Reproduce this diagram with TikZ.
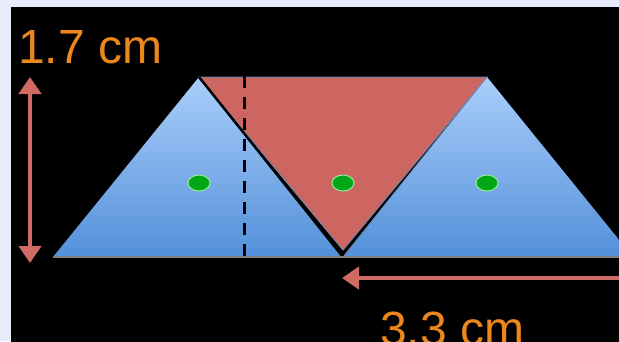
\documentclass[tikz,border=0pt]{standalone}
\usepackage{fontspec}
\newfontfamily\etiqueta{Liberation Sans}
\usetikzlibrary{arrows.meta,shapes.geometric}
\definecolor{fondo}{HTML}{E8ECFA}
\definecolor{rojo}{HTML}{CD6660}
\definecolor{bordeazul}{HTML}{7384A8}
\definecolor{azulclaro}{HTML}{AACEFA}
\definecolor{azuloscuro}{HTML}{5390DA}
\definecolor{naranja}{HTML}{EC871C}
\definecolor{verde}{HTML}{00A818}
\definecolor{verdeclaro}{HTML}{98EC98}
\definecolor{flecha}{HTML}{D06A64}
\begin{document}
\begin{tikzpicture}[x=1pt,y=-1pt,
    azul/.style={top color=azulclaro,bottom color=azuloscuro},
    punto/.style={ellipse,fill=verde,draw=verdeclaro,line width=1pt,
      minimum width=22pt,minimum height=16pt,inner sep=0pt},
    medida/.style={flecha,line width=4.5pt,
      {Triangle[width=22pt,length=17pt]}-{Triangle[width=22pt,length=17pt]}},
    cota/.style={text=naranja,inner sep=0pt,anchor=base west,
      font=\etiqueta\fontsize{48}{58}\selectfont}]
  \useasboundingbox (0,0) rectangle (619,341);
  \clip (0,0) rectangle (619,341);
  \fill[fondo] (0,0) rectangle (619,341);
  \fill[black] (11,7) rectangle (640,360);

  % Vértices
  \coordinate (a1) at (199,77);
  \coordinate (a2) at (487,77);
  \coordinate (b0) at (53,257);
  \coordinate (b1) at (343,257);
  \coordinate (b2) at (633,257);
  \coordinate (r0) at (343,250);

  % Triángulo izquierdo
  \shade[azul] (a1) -- (b0) -- (b1) -- cycle;
  % Triángulo invertido
  \filldraw[fill=rojo,draw=bordeazul,line width=1pt] (a1) -- (a2) -- (r0) -- cycle;
  % Triángulo derecho
  \shade[azul] (a2) -- (b1) -- (b2) -- cycle;
  \draw[bordeazul,line width=0.8pt] (a2) -- (b1);

  \draw[black,line width=2.5pt] (a1) -- (b1);
  \draw[gray,line width=1.5pt] (b0) -- (b2);

  % Eje
  \coordinate (e1) at (244,55);
  \coordinate (e2) at (244,312);
  \draw[black,line width=3pt,dash pattern=on 12pt off 9pt] (e1) -- (e2);

  % Centros
  \node[punto] (c1) at (199,183) {};
  \node[punto] (c2) at (343,183) {};
  \node[punto] (c3) at (487,183) {};

  % Medidas
  \coordinate (h1) at (30,77);
  \coordinate (h2) at (30,263);
  \draw[medida] (h1) -- (h2);
  \coordinate (w1) at (342,278);
  \coordinate (w2) at (636,278);
  \draw[medida] (w1) -- (w2);
  \node[cota] (alto) at (18,63) {1.7 cm};
  \node[cota] (ancho) at (380,345) {3.3 cm};
\end{tikzpicture}
\end{document}
